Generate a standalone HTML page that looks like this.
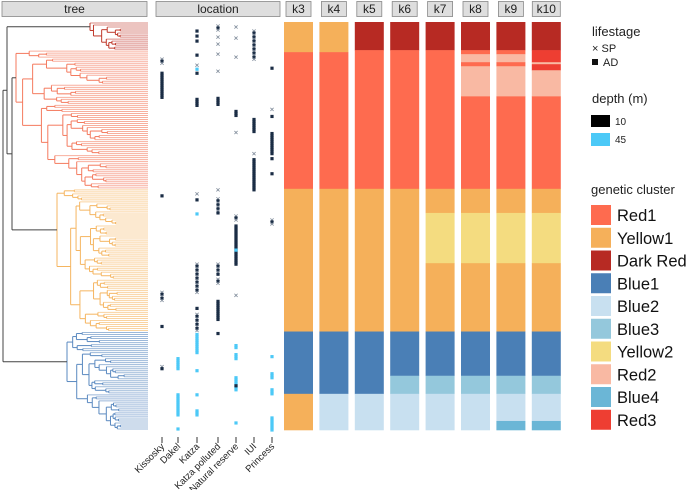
<!DOCTYPE html>
<html><head><meta charset="utf-8"><style>
body{margin:0;background:#fff;width:700px;height:490px;overflow:hidden;font-family:"Liberation Sans",sans-serif}
svg{display:block}
</style></head><body>
<svg id="fig" width="700" height="490" viewBox="0 0 700 490" xmlns="http://www.w3.org/2000/svg" font-family="Liberation Sans, sans-serif">
<g><rect x="2" y="1.5" width="145" height="15" fill="#dedede" stroke="#888" stroke-width="0.8"/><text x="74.5" y="13" font-size="12" text-anchor="middle" fill="#222">tree</text></g>
<g><rect x="156" y="1.5" width="124" height="15" fill="#dedede" stroke="#888" stroke-width="0.8"/><text x="218" y="13" font-size="12" text-anchor="middle" fill="#222">location</text></g>
<g id="tree"></g>
<g id="loc"></g>
<g id="struct"></g>
<g id="legend">
<text x="592" y="36" font-size="13" fill="#222">lifestage</text>
<text x="592" y="52" font-size="11" fill="#222">× SP</text>
<rect x="592" y="59" width="6" height="6" fill="#111"/><text x="603" y="66" font-size="11" fill="#222">AD</text>
<text x="592" y="103" font-size="13" fill="#222">depth (m)</text>
<rect x="591" y="115" width="19" height="12" fill="#000"/><text x="615" y="125" font-size="10" fill="#222">10</text>
<rect x="591" y="133" width="19" height="13" fill="#4cc9f7"/><text x="615" y="143" font-size="10" fill="#222">45</text>
<text x="591" y="194" font-size="13" fill="#222">genetic cluster</text>
<g id="legsw"></g>
</g>
</svg>
<script>
const NS="http://www.w3.org/2000/svg";
function mk(tag,attrs,parent){const e=document.createElementNS(NS,tag);for(const k in attrs)e.setAttribute(k,attrs[k]);parent.appendChild(e);return e;}
const clusterNames=["Red1","Yellow1","Dark Red","Blue1","Blue2","Blue3","Yellow2","Red2","Blue4","Red3"];
const clusterColors=["#fe6b4f","#f5b05a","#b72a23","#4a7fb6","#c8e0f0","#94c8dc","#f4dc80","#f9b9a3","#6bb6d6","#ee3e32"];
// structure columns: segments [cluster index, startSample, endSample]
const kLabels=["k3","k4","k5","k6","k7","k8","k9","k10"];
const k3=[[1,0,15],[0,15,83],[1,83,154],[3,154,185],[1,185,203]];
const k4=[[1,0,15],[0,15,83],[1,83,154],[3,154,185],[4,185,203]];
const k5=[[2,0,14],[0,14,83],[1,83,154],[3,154,185],[4,185,203]];
const k6=[[2,0,14],[0,14,83],[1,83,154],[3,154,176],[5,176,185],[4,185,203]];
const k7=[[2,0,14],[0,14,83],[1,83,95],[6,95,120],[1,120,154],[3,154,176],[5,176,185],[4,185,203]];
const k8=[[2,0,14],[0,14,16],[7,16,20],[0,20,22],[7,22,37],[0,37,83],[1,83,95],[6,95,120],[1,120,154],[3,154,176],[5,176,185],[4,185,203]];
const k9=[[2,0,14],[0,14,16],[7,16,20],[0,20,22],[7,22,37],[0,37,83],[1,83,95],[6,95,120],[1,120,154],[3,154,176],[5,176,185],[4,185,198.5],[8,198.5,203]];
const k10=[[2,0,14],[9,14,20],[7,20,21],[9,21,24],[7,24,37],[0,37,83],[1,83,95],[6,95,120],[1,120,154],[3,154,176],[5,176,185],[4,185,198.5],[8,198.5,203]];
const kData=[k3,k4,k5,k6,k7,k8,k9,k10];
// locations
const locNames=["Kissosky","Dakel","Katza","Katza polluted","Natural reserve","IUI","Princess"];
// runs: [location index, startSample, endSample, lifestage(x/s/m), depth(10/45)]
const locRuns=[
[0,18,20,"m",10],[0,25,37,"s",10],[0,86,86,"s",10],[0,134,138,"m",10],[0,151,151,"s",10],[0,171,172,"m",10],
[1,167,172,"s",45],[1,185,195,"s",45],[1,202,202,"s",45],
[2,4,4,"s",10],[2,6.5,6.5,"s",10],[2,9,9,"s",10],[2,16,16,"s",10],[2,21,21,"x",10],[2,23,23,"s",45],[2,25,25,"s",10],[2,38,41.5,"s",10],[2,85,85,"x",10],[2,88,88,"s",10],[2,95,95,"s",45],[2,120,134,"m",10],[2,142,142,"s",10],[2,145,153,"m",10],[2,155,164,"s",45],[2,173,173,"s",45],[2,185,185,"s",45],[2,193,195,"s",45],
[3,1.5,4,"m",10],[3,7,7,"x",10],[3,10.5,10.5,"x",10],[3,15.5,15.5,"x",10],[3,24,24,"x",10],[3,37.5,40.5,"s",10],[3,83,83,"x",10],[3,87.5,95,"m",10],[3,120,125,"m",10],[3,127.5,130,"m",10],[3,138.5,147.5,"s",10],[3,154.5,154.5,"s",10],
[4,2,2,"x",10],[4,7.5,7.5,"x",10],[4,17,17,"x",10],[4,44,46.5,"s",10],[4,54.5,54.5,"x",10],[4,96,98.5,"m",10],[4,101,120.5,"s",10],[4,113,113,"s",45],[4,135.5,135.5,"x",10],[4,160.5,162,"s",45],[4,165,167.5,"s",45],[4,176.5,182.5,"s",45],[4,180.5,180.5,"s",10],[4,199,199,"s",45],
[5,4,18,"m",10],[5,48,54,"s",10],[5,65,65,"x",10],[5,68,83,"s",10],
[6,22.5,22.5,"s",10],[6,43,43,"x",10],[6,46.5,46.5,"s",10],[6,55,65,"s",10],[6,67.5,67.5,"s",10],[6,75,75,"s",10],[6,98,100,"m",10],[6,166,166,"s",45],[6,174.5,176.5,"s",45],[6,182.5,185,"s",45],[6,196.5,202.5,"s",45]
];
// tree clades: [first tip, last tip, root x, color]
const clades=[[0,13,90,"#c0392b"],[14,82,16,"#f47a5e"],[83,153,57,"#f5b560"],[154,202,67,"#5a89c0"]];
const N=203, TOP=22, H=408;
const yS=s=>TOP+s*H/N;
const tipY=i=>TOP+(i+0.5)*H/N;
const locX=[162,178,197,218,236,254,272];
const colX=k=>284+k*35.4;
const COLW=29;

// ---- structure plot
const st=document.getElementById('struct');
kData.forEach((segs,k)=>{
  const x=colX(k);
  const hg=mk('g',{},st);
  
  
  const w=kLabels[k].length>2?28:25;
  mk('rect',{x:x+COLW/2-w/2,y:1.5,width:w,height:15,fill:'#dedede',stroke:'#888','stroke-width':0.8},hg);
  const t=mk('text',{x:x+COLW/2,y:13,'font-size':12,'text-anchor':'middle',fill:'#222'},hg);t.textContent=kLabels[k];
  const g=mk('g',{},st);
  
  
  segs.forEach(s=>{
    const r=mk('rect',{x:x,y:yS(s[1]),width:COLW,height:Math.max(0.5,yS(s[2])-yS(s[1])+0.3),fill:clusterColors[s[0]]},g);
    
    
  });
});

// ---- location panel
const lp=document.getElementById('loc');
locNames.forEach((n,i)=>{
  const x=locX[i];
  mk('line',{x1:x,x2:x,y1:437,y2:443,stroke:'#333','stroke-width':1},lp);
  const t=mk('text',{x:x+3,y:447,'font-size':9.5,'text-anchor':'end',fill:'#222',transform:`rotate(-45 ${x+3} 447)`},lp);
  t.textContent=n;
  
  
});
locRuns.forEach(r=>{
  const x=locX[r[0]];
  const col=r[4]===45?'#4cc9f7':'#1b2d45';
  let j=0;
  for(let s=r[1];s<=r[2]+0.01;s+=1,j++){
    const y=yS(s+0.5);
    const type=r[3]==='m'?(j%2?'s':'x'):r[3];
    if(type==='s'){
      const p=mk('rect',{x:x-1.6,y:y-1.6,width:3.2,height:3.2,fill:col},lp);
      
      
    }else{
      const p=mk('path',{d:`M${x-1.6},${y-1.6}L${x+1.6},${y+1.6}M${x-1.6},${y+1.6}L${x+1.6},${y-1.6}`,stroke:r[4]===45?'#4cc9f7':'#7f8b9a','stroke-width':0.8,fill:'none'},lp);
      
      
    }
  }
});

// ---- tree
const tg=document.getElementById('tree');
const TIPX=148;
const splits=[0.06,0.1,0.5,0.08,0.35,0.55,0.12,0.45,0.2,0.6,0.3,0.07,0.4];
const steps=[0.05,0.08,0.12,0.06,0.15,0.1,0.2,0.07];
let ctr=0;
function line(x1,y1,x2,y2,c,w,op){mk('line',{x1,y1,x2,y2,stroke:c,'stroke-width':w||1,'stroke-opacity':op||1},tg);}
function node(a,b,x0,c){
  if(a===b){line(x0,tipY(a),TIPX,tipY(a),c,1,0.6);return tipY(a);}
  const n=b-a+1;
  let k=a+Math.max(0,Math.min(n-2,Math.round(n*splits[ctr%splits.length])-1));
  const st1=steps[ctr%steps.length],st2=steps[(ctr+3)%steps.length];ctr++;
  const xa=a===k?TIPX:x0+(TIPX-x0)*st1;
  const xb=k+1===b?TIPX:x0+(TIPX-x0)*st2;
  const ya=a===k?tipY(a):node(a,k,xa,c);
  const yb=k+1===b?tipY(b):node(k+1,b,xb,c);
  line(x0,ya,xa,ya,c,1,a===k?0.6:1);
  line(x0,yb,xb,yb,c,1,k+1===b?0.6:1);
  line(x0,ya,x0,yb,c,1,1);
  return (ya+yb)/2;
}
const cy=clades.map(cl=>node(cl[0],cl[1],cl[2],cl[3]));
const gray="#444";
line(12,cy[1],16,cy[1],gray);line(12,cy[2],57,cy[2],gray);line(12,cy[1],12,cy[2],gray);
const m1=(cy[1]+cy[2])/2;
line(7,cy[0],90,cy[0],gray);line(7,m1,12,m1,gray);line(7,cy[0],7,m1,gray);
const m0=(cy[0]+m1)/2;
line(3,m0,7,m0,gray);line(3,cy[3],67,cy[3],gray);line(3,m0,3,cy[3],gray);

// ---- legend swatches
const lg=document.getElementById('legsw');
clusterNames.forEach((n,i)=>{
  const y=205+i*22.75;
  const g=mk('g',{},lg);
  
  
  mk('rect',{x:591,y:y,width:20,height:20,fill:clusterColors[i]},g);
  const t=mk('text',{x:617,y:y+16,'font-size':16.5,fill:'#111'},g);t.textContent=n;
});
</script>
</body></html>
